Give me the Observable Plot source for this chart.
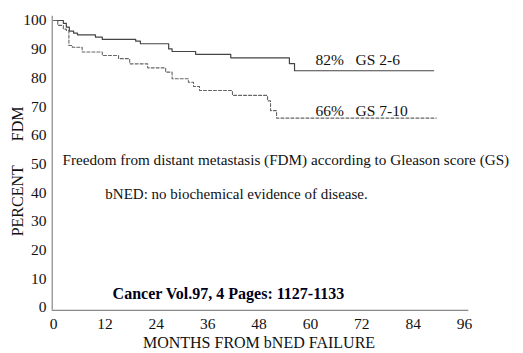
<!DOCTYPE html>
<html>
<head>
<meta charset="utf-8">
<script src="https://cdn.jsdelivr.net/npm/d3@7"></script>
<script src="https://cdn.jsdelivr.net/npm/@observablehq/plot@0.6"></script>
<style>
  html, body { margin: 0; padding: 0; background: #fff; }
  #chart svg { display: block; }
  #chart svg, #chart svg text { font-family: "Liberation Serif", "DejaVu Serif", serif !important; }
</style>
</head>
<body>
<div id="chart"></div>
<script>
// Kaplan-Meier style step data
const gs26Months = [0, 2.3, 3.0, 3.7, 4.7, 5.6, 9.8, 11.4, 19.2, 20.3, 26.9, 27.7, 33.2, 41.4, 55.1, 56.3, 88.8];
const gs26Values = [100, 99, 97.7, 96.3, 95.6, 95, 94.2, 93.4, 92.8, 91.9, 90.1, 89.2, 88.2, 87, 85, 82.5, 82.5];

const gs710Months = [0, 1.0, 2.3, 3.0, 3.6, 4.4, 6.7, 11.4, 15.2, 17.8, 22, 26.2, 27.7, 31.5, 32.7, 34.1, 41.8, 50.0, 50.7, 52.1, 89.4];
const gs710Values = [100, 98.3, 97, 96.5, 91.3, 90.7, 89, 87.8, 86.7, 84.9, 83.5, 82, 79.7, 78.5, 77, 75.6, 73.9, 72, 68.6, 66, 66];

const xTicks = [0, 12, 24, 36, 48, 60, 72, 84, 96];
const yTicks = [0, 10, 20, 30, 40, 50, 60, 70, 80, 90, 100];

const labelGS26 = "82%\u00a0\u00a0\u00a0GS 2-6";
const labelGS710 = "66%\u00a0\u00a0\u00a0GS 7-10";
const note1 = "Freedom from distant metastasis (FDM) according to Gleason score (GS)";
const note2 = "bNED: no biochemical evidence of disease.";
const citation = "Cancer Vol.97, 4 Pages: 1127-1133";
const xLabel = "MONTHS FROM bNED FAILURE";
const yLabel = "PERCENT\u00a0\u00a0\u00a0\u00a0\u00a0\u00a0FDM";

const gs26 = gs26Months.map((m, i) => ({month: m, value: gs26Values[i]}));
const gs710 = gs710Months.map((m, i) => ({month: m, value: gs710Values[i]}));

const serif = "Liberation Serif";

const chart = Plot.plot({
  width: 523,
  height: 353,
  marginLeft: 53,
  marginRight: 59,
  marginTop: 20,
  marginBottom: 46,
  style: {fontFamily: serif, fontSize: "15px", color: "#111", background: "#fff", overflow: "visible"},
  x: {domain: [0, 96], ticks: xTicks},
  y: {domain: [0, 100], ticks: yTicks},
  marks: [
    Plot.axisX({ticks: xTicks, tickSize: 0, tickPadding: 10, label: null, fontSize: 15.5, fontFamily: serif, fill: "#111"}),
    Plot.axisY({ticks: yTicks, tickSize: 0, tickPadding: 7, label: null, fontSize: 15.5, fontFamily: serif, fill: "#111"}),
    Plot.ruleY([-1], {x1: -0.3, x2: 97, stroke: "#888", strokeWidth: 1.2}),
    Plot.ruleX([-0.3], {y1: -1, y2: 101.5, stroke: "#888", strokeWidth: 1.2}),
    Plot.line(gs26, {x: "month", y: "value", curve: "step-after", stroke: "#444", strokeWidth: 1.2}),
    Plot.line(gs710, {x: "month", y: "value", curve: "step-after", stroke: "#666", strokeWidth: 1.1, strokeDasharray: "3,2"}),
    Plot.text([labelGS26], {x: 61.2, y: 86.2, text: d => d, textAnchor: "start", fontSize: 15.5, fontFamily: serif, fill: "#111"}),
    Plot.text([labelGS710], {x: 61.2, y: 68.3, text: d => d, textAnchor: "start", fontSize: 15.5, fontFamily: serif, fill: "#111"}),
    Plot.text([note1], {x: 2.1, y: 51.2, text: d => d, textAnchor: "start", fontSize: 15.2, fontFamily: serif, fill: "#111"}),
    Plot.text([note2], {x: 12.1, y: 39.4, text: d => d, textAnchor: "start", fontSize: 15, fontFamily: serif, fill: "#111"}),
    Plot.text([citation], {x: 13.8, y: 4.9, text: d => d, textAnchor: "start", fontSize: 16, fontWeight: "bold", fontFamily: serif, fill: "#00001a"}),
    Plot.text([xLabel], {x: 48, y: -12.2, text: d => d, fontSize: 16, fontFamily: serif, fill: "#111"}),
    Plot.text([yLabel], {x: -8.4, y: 47.4, text: d => d, rotate: -90, fontSize: 16, fontFamily: serif, fill: "#111"})
  ]
});
document.getElementById("chart").appendChild(chart);
</script>
</body>
</html>
